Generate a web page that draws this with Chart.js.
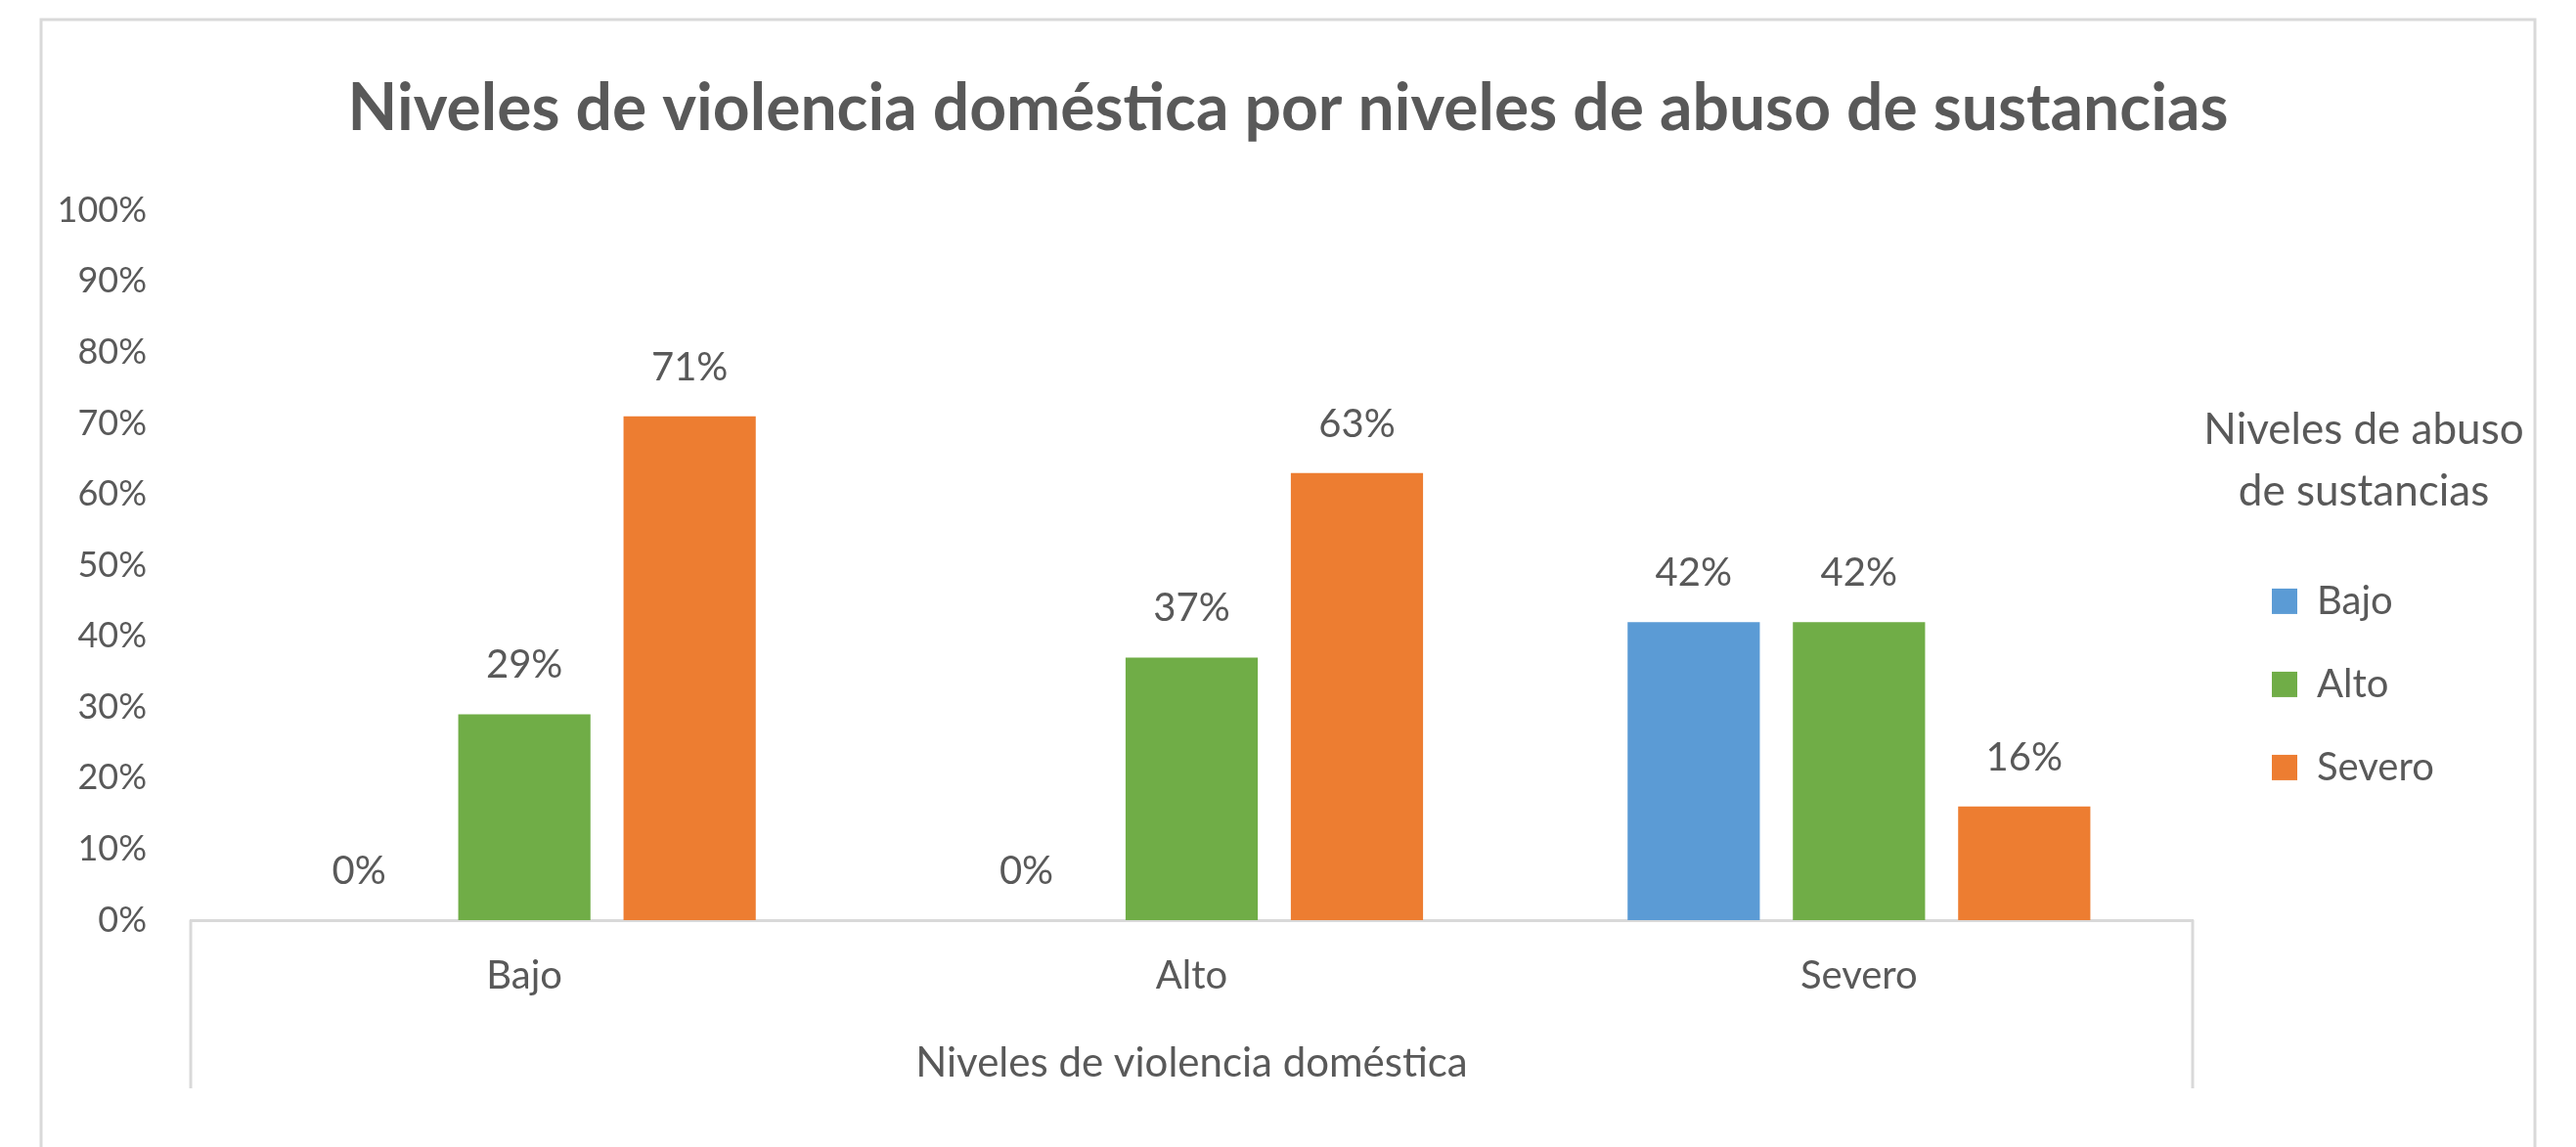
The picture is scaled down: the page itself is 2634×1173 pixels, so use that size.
<!DOCTYPE html>
<html><head><meta charset="utf-8">
<script src="https://cdn.jsdelivr.net/npm/chart.js@4.4.1/dist/chart.umd.min.js"></script>
<style>html,body{margin:0;padding:0;background:#fff;overflow:hidden}#wrap{width:2634px;height:1173px;position:relative}</style>
</head><body><div id="wrap"><canvas id="c" width="2634" height="1173"></canvas></div>
<script>
// ---- data ----
const categories = ['Bajo', 'Alto', 'Severo'];
const seriesLabels = ['Bajo', 'Alto', 'Severo'];
const valuesBajo = [0, 0, 42];
const valuesAlto = [29, 37, 42];
const valuesSevero = [71, 63, 16];
const yTickValues = [0, 10, 20, 30, 40, 50, 60, 70, 80, 90, 100];
const chartTitle = 'Niveles de violencia doméstica por niveles de abuso de sustancias';
const xAxisTitle = 'Niveles de violencia doméstica';
const legendTitle = ['Niveles de abuso', 'de sustancias'];
const seriesColors = ['#5B9BD5', '#70AD47', '#ED7D31'];

const TEXT = '#595959';
const LINE = '#D9D9D9';
const FONT = 'Lato';

const framePlugin = {
  id: 'frame',
  beforeDraw(chart) {
    const ctx = chart.ctx;
    ctx.save();
    ctx.fillStyle = '#fff';
    ctx.fillRect(0, 0, chart.width, chart.height);
    ctx.strokeStyle = LINE;
    ctx.lineWidth = 3;
    ctx.strokeRect(42, 20, 2550, 1200);
    ctx.restore();
  }
};

const axisBoxPlugin = {
  id: 'axisBox',
  afterDraw(chart) {
    const x = chart.scales.x;
    const ctx = chart.ctx;
    ctx.save();
    ctx.strokeStyle = LINE;
    ctx.lineWidth = 3;
    ctx.beginPath();
    ctx.moveTo(x.left, x.top);
    ctx.lineTo(x.left, x.top + 172);
    ctx.moveTo(x.right, x.top);
    ctx.lineTo(x.right, x.top + 172);
    ctx.stroke();
    ctx.restore();
  }
};

const labelPlugin = {
  id: 'valueLabels',
  afterDatasetsDraw(chart) {
    const ctx = chart.ctx;
    ctx.save();
    ctx.font = '40px ' + FONT;
    ctx.fillStyle = TEXT;
    ctx.textAlign = 'center';
    ctx.textBaseline = 'middle';
    chart.data.datasets.forEach((ds, i) => {
      chart.getDatasetMeta(i).data.forEach((bar, j) => {
        ctx.fillText(ds.data[j] + '%', bar.x, bar.y - 50);
      });
    });
    ctx.restore();
  }
};

const legendPlacePlugin = {
  id: 'legendPlace',
  beforeInit(chart) {
    const lg = chart.legend;
    const f = lg.fit.bind(lg);
    lg.fit = function () { f(); this.width = 392; };
    // draw without clipping to the legend box so the centred title can overhang
    lg.draw = function () { if (this.options.display) this._draw(); };
  },
  afterLayout(chart) {
    const lg = chart.legend;
    lg.left = 2278; lg.width = 278; lg.right = lg.left + lg.width;
  }
};

function build() {
  new Chart(document.getElementById('c'), {
    type: 'bar',
    data: {
      labels: categories,
      datasets: [
        { label: seriesLabels[0], data: valuesBajo, backgroundColor: seriesColors[0], borderWidth: 0 },
        { label: seriesLabels[1], data: valuesAlto, backgroundColor: seriesColors[1], borderWidth: 0 },
        { label: seriesLabels[2], data: valuesSevero, backgroundColor: seriesColors[2], borderWidth: 0 }
      ]
    },
    options: {
      responsive: false,
      devicePixelRatio: 1,
      animation: false,
      layout: { padding: { left: 0, right: 0, top: 0, bottom: 0 } },
      datasets: { bar: { categoryPercentage: 0.743, barPercentage: 0.80 } },
      scales: {
        x: {
          grid: { display: false, drawTicks: false },
          border: { display: true, color: LINE, width: 3 },
          ticks: { color: TEXT, font: { family: FONT, size: 40 }, padding: 33 },
          title: { display: true, text: xAxisTitle, color: TEXT, font: { family: FONT, size: 42 }, padding: { top: 0, bottom: 60 } },
          afterFit(s) { s.height = 232; }
        },
        y: {
          min: 0, max: 100,
          grid: { display: false, drawTicks: false },
          border: { display: false },
          afterBuildTicks(s) { s.ticks = yTickValues.map(v => ({ value: v })); },
          ticks: { color: TEXT, font: { family: FONT, size: 36 }, padding: 45, callback: v => v + '%' },
          afterFit(s) { s.width = 195; }
        }
      },
      plugins: {
        title: {
          display: true, text: chartTitle, color: TEXT,
          font: { family: FONT, size: 66, weight: 'bold' },
          padding: { top: 72, bottom: 64 }
        },
        legend: {
          position: 'right', align: 'start',
          title: {
            display: true, text: legendTitle, color: TEXT,
            font: { family: FONT, size: 44, lineHeight: 1.43 },
            padding: { top: 418, bottom: 69 }
          },
          labels: { color: TEXT, font: { family: FONT, size: 40 }, boxWidth: 26, boxHeight: 26, padding: 45 }
        },
        tooltip: { enabled: false }
      }
    },
    plugins: [framePlugin, axisBoxPlugin, labelPlugin, legendPlacePlugin]
  });
}
Promise.all([
  document.fonts.load('40px Lato'), document.fonts.load('bold 66px Lato')
]).then(build, build);
</script></body></html>
